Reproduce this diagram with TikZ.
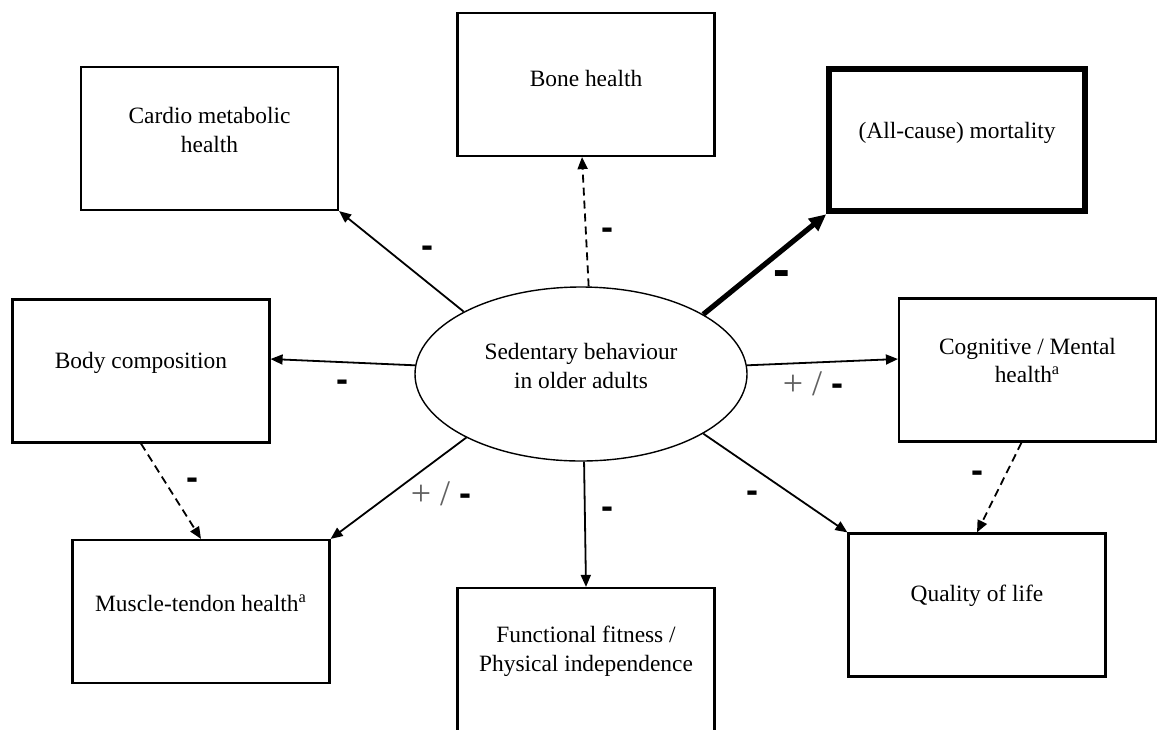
\documentclass[tikz,border=0pt]{standalone}
\usepackage{fontspec}
\setmainfont{Liberation Serif}
\newfontfamily\lsans{Liberation Sans}
\usetikzlibrary{shapes.geometric,arrows.meta}
\begin{document}
\begin{tikzpicture}[x=0.5pt,y=-0.5pt,
  box/.style={draw, line width=1.1pt, minimum width=128.5pt, minimum height=71.5pt, inner sep=0pt},
  bigbox/.style={draw, line width=3pt, minimum width=127.75pt, minimum height=71.25pt, inner sep=0pt},
  txt/.style={font=\fontsize{11.7}{14.4}\selectfont, align=center, inner sep=0pt},
  arr/.style={line width=0.9pt, -{Triangle[length=6pt,width=5pt]}},
  dsh/.style={arr, dash pattern=on 4pt off 2.5pt},
  thickarr/.style={line width=2.6pt, -{Triangle[length=8.5pt,width=7.5pt]}},
  mn/.style={font=\lsans\bfseries\fontsize{18}{18}\selectfont, inner sep=0pt},
  bigmn/.style={font=\lsans\bfseries\fontsize{25}{25}\selectfont, inner sep=0pt},
  pm/.style={font=\fontsize{18}{18}\selectfont, text=black!62, inner sep=0pt}
]
\useasboundingbox (0,0) rectangle (1160,729);

% central ellipse
\node[draw, ellipse, line width=0.7pt, minimum width=166pt, minimum height=87pt, inner sep=0pt] (sed) at (581,374) {};
\node[txt] (sedt) at ([yshift=4pt]sed.center) {Sedentary behaviour\\in older adults};

% boxes
\node[box] (cardio) at (209.5,138.5) {};
\node[txt] (cardiot) at ([yshift=4.25pt]cardio.center) {Cardio metabolic\\health};

\node[box] (bone) at (586,84.5) {};
\node[txt] (bonet) at ([yshift=3.25pt]bone.center) {Bone health};

\node[bigbox] (mort) at (957,140) {};
\node[txt] (mortt) at ([yshift=3.5pt]mort.center) {(All-cause) mortality};

\node[box] (body) at (141,371) {};
\node[txt] (bodyt) at ([yshift=4pt]body.center) {Body composition};

\node[box] (muscle) at (201,611.5) {};
\node[txt] (musclet) at ([yshift=4.25pt]muscle.center) {Muscle-tendon health\textsuperscript{a}};

\node[box] (func) at (586,659.5) {};
\node[txt] (funct) at ([yshift=4pt]func.center) {Functional fitness /\\Physical independence};

\node[box] (cog) at (1027.5,370) {};
\node[txt] (cogt) at ([yshift=4.75pt]cog.center) {Cognitive / Mental\\health\textsuperscript{a}};

\node[box] (qol) at (977,605) {};
\node[txt] (qolt) at ([yshift=4.5pt]qol.center) {Quality of life};

% connectors
\draw[arr] (sed.152) -- (cardio.south east);
\draw[dsh] (sed.85) -- ([xshift=-2pt]bone.south);
\draw[thickarr] (sed.26) -- (mort.south west);
\draw[arr] (sed.177) -- ([yshift=6pt]body.east);
\draw[arr] (sed.209) -- (muscle.north east);
\draw[arr] (sed.272) -- (func.north);
\draw[arr] (sed.3) -- ([yshift=5.5pt]cog.west);
\draw[arr] (sed.334) -- (qol.north west);
\draw[dsh] (body.south) -- (muscle.north);
\draw[dsh] ([xshift=-3pt]cog.south) -- (qol.north);

% signs
\node[mn] (l1) at (427,252) {-};
\node[mn] (l2) at (607,234) {-};
\node[bigmn] (l3) at (782,279) {-};
\node[mn] (l4) at (342,386) {-};
\node[mn] (l5) at (192,484) {-};
\node[pm] (l6) at (441,494) {+ / {\lsans\bfseries\fontsize{18}{18}\selectfont\color{black}-}};
\node[mn] (l7) at (607,513) {-};
\node[pm] (l8) at (813,384) {+ / {\lsans\bfseries\fontsize{18}{18}\selectfont\color{black}-}};
\node[mn] (l9) at (752,497) {-};
\node[mn] (l10) at (977,477) {-};
\end{tikzpicture}
\end{document}
